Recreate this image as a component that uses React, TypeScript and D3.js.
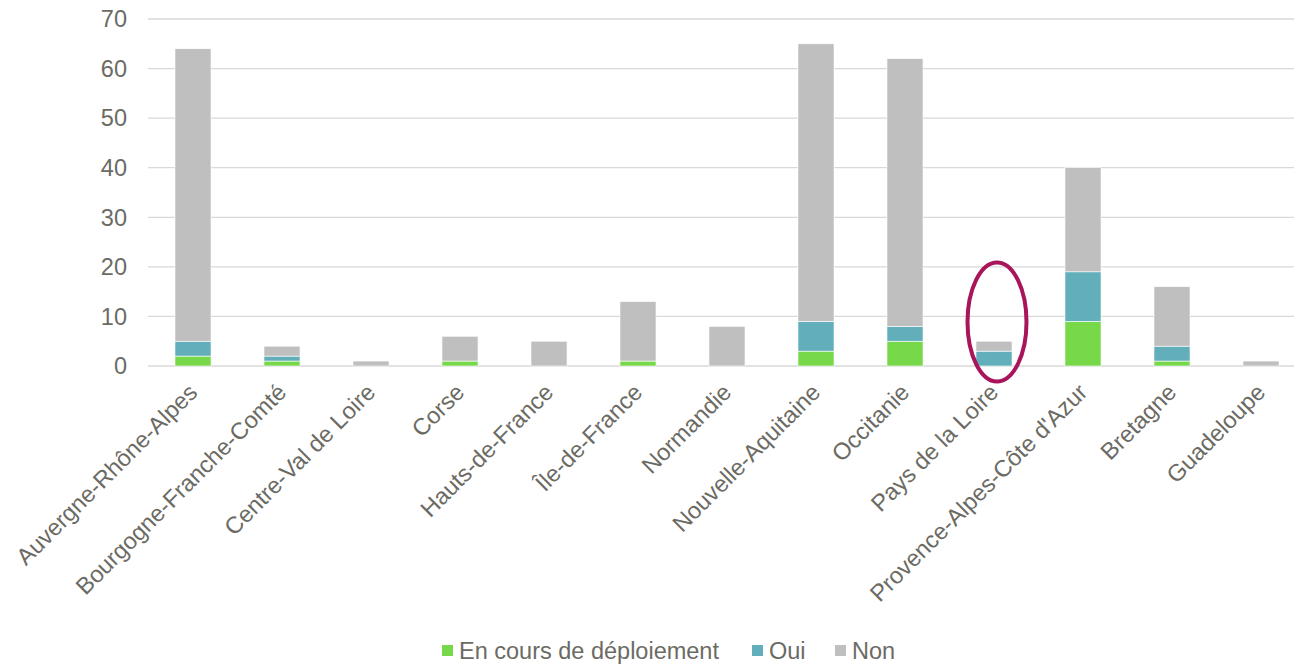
import React from "react";
import * as d3 from "d3";

const categories = [
  "Auvergne-Rhône-Alpes",
  "Bourgogne-Franche-Comté",
  "Centre-Val de Loire",
  "Corse",
  "Hauts-de-France",
  "Île-de-France",
  "Normandie",
  "Nouvelle-Aquitaine",
  "Occitanie",
  "Pays de la Loire",
  "Provence-Alpes-Côte d'Azur",
  "Bretagne",
  "Guadeloupe",
];
const enCours = [2, 1, 0, 1, 0, 1, 0, 3, 5, 0, 9, 1, 0];
const oui = [3, 1, 0, 0, 0, 0, 0, 6, 3, 3, 10, 3, 0];
const non = [59, 2, 1, 5, 5, 12, 8, 56, 54, 2, 21, 12, 1];
const yTicks = [0, 10, 20, 30, 40, 50, 60, 70];
const seriesNames = ["En cours de déploiement", "Oui", "Non"];
const seriesColors = ["#77d84a", "#62afbb", "#bfbfbf"];
const highlighted = "Pays de la Loire";

const W = 1294;
const H = 666;
const font = "'Liberation Sans', Arial, sans-serif";
const textColor = "#6b6b64";

export default function App() {
  const x = d3.scaleBand<string>().domain(categories).range([148.5, 1305.5]).paddingInner(0.595).paddingOuter(0.2975);
  const y = d3.scaleLinear().domain([0, 70]).range([366, 19]);
  const rows = categories.map((c, i) => ({ cat: c, en: enCours[i], oui: oui[i], non: non[i] }));
  const stack = d3.stack<any>().keys(["en", "oui", "non"])(rows);

  const hx = (x(highlighted) ?? 0) + x.bandwidth() / 2 + 3;

  const legendItems = [
    { name: seriesNames[0], color: seriesColors[0], x: 442 },
    { name: seriesNames[1], color: seriesColors[1], x: 752 },
    { name: seriesNames[2], color: seriesColors[2], x: 835 },
  ];

  return (
    <svg width={W} height={H} style={{ position: "fixed", left: 0, top: 0, background: "#fff" }} fontFamily={font}>
      {yTicks.map((t) => (
        <g key={t}>
          <line x1={148} x2={W} y1={y(t)} y2={y(t)} stroke="#d9d9d9" strokeWidth={1.3} />
          <text x={127} y={y(t)} dy="0.35em" textAnchor="end" fontSize={23.5} fill={textColor}>
            {t}
          </text>
        </g>
      ))}
      {stack.map((s, si) => (
        <g key={si} fill={seriesColors[si]}>
          {s.map((d, i) =>
            d[1] - d[0] > 0 ? (
              <rect
                key={i}
                x={x(categories[i])}
                width={x.bandwidth()}
                y={y(d[1])}
                height={y(d[0]) - y(d[1])}
                stroke="#ffffff"
                strokeWidth={0.6}
              />
            ) : null
          )}
        </g>
      ))}
      {categories.map((c) => {
        const cx = (x(c) ?? 0) + x.bandwidth() / 2;
        return (
          <text
            key={c}
            transform={`translate(${cx},${388}) rotate(-45)`}
            textAnchor="end"
            dy="0.35em"
            fontSize={23.5}
            fill={textColor}
          >
            {c}
          </text>
        );
      })}
      <ellipse cx={hx} cy={322} rx={29.5} ry={59.5} fill="none" stroke="#a8155a" strokeWidth={4} />
      {legendItems.map((l) => (
        <g key={l.name}>
          <rect x={l.x} y={645} width={11} height={11} fill={l.color} />
          <text x={l.x + 17} y={659} fontSize={23.5} fill={textColor}>
            {l.name}
          </text>
        </g>
      ))}
    </svg>
  );
}
